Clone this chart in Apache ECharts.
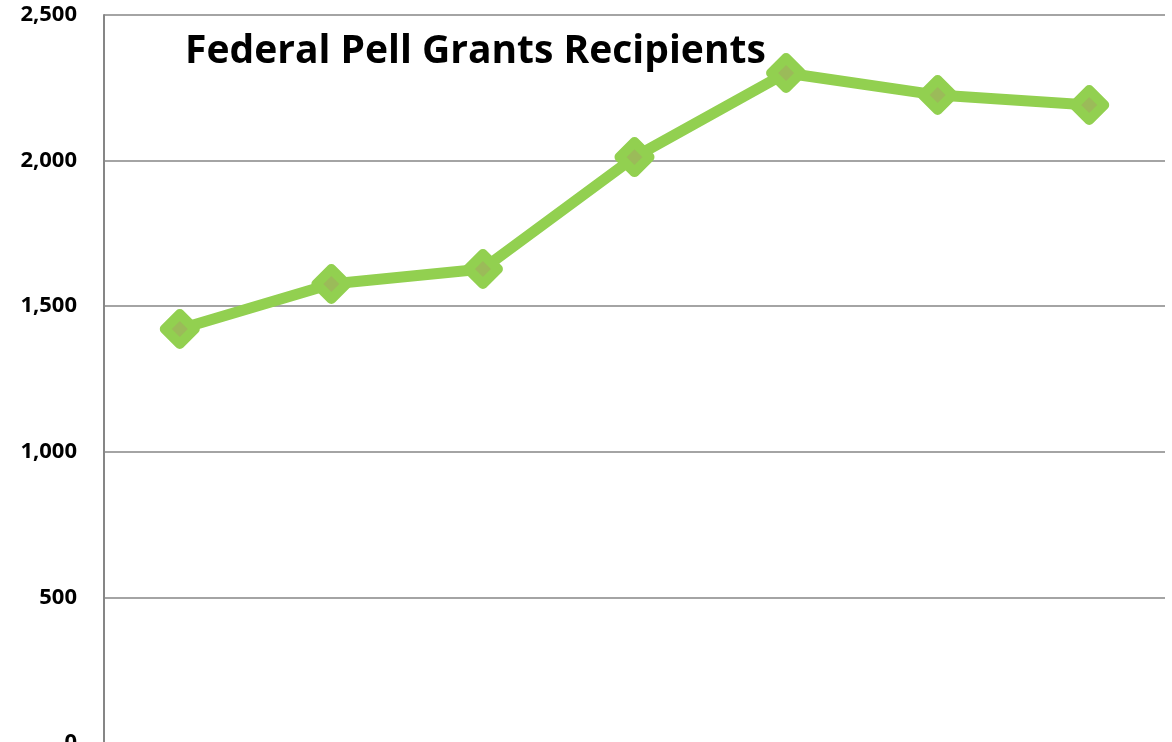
<!DOCTYPE html>
<html>
<head>
<meta charset="utf-8">
<title>Federal Pell Grants Recipients</title>
<script src="https://cdn.jsdelivr.net/npm/echarts@6/dist/echarts.min.js"></script>
<style>
  html, body { margin: 0; padding: 0; background: #ffffff; }
  #chart { width: 1172px; height: 742px; }
</style>
</head>
<body>
<div id="chart"></div>
<script>
// categories are below the visible area in the reference
const categories = ['1', '2', '3', '4', '5', '6', '7']
const recipients = [1422, 1576, 1628, 2012, 2301, 2225, 2191]
const yTicks = [0, 500, 1000, 1500, 2000, 2500]

const myChart = echarts.init(document.getElementById('chart'))
const option = {
  animation: false,
  title: {
    text: 'Federal Pell Grants Recipients',
    left: 180,
    top: 27,
    textStyle: {
      fontFamily: 'Open Sans',
      fontWeight: 'bold',
      fontSize: 39,
      color: '#000000'
    }
  },
  grid: {
    left: 104,
    right: 7,
    top: 15,
    bottom: -1,
    outerBoundsMode: 'none',
    containLabel: false
  },
  xAxis: {
    type: 'category',
    data: categories,
    boundaryGap: true,
    axisLine: { lineStyle: { color: '#868686', width: 2 } },
    axisTick: { show: false },
    axisLabel: { show: false }
  },
  yAxis: {
    type: 'value',
    min: yTicks[0],
    max: yTicks[yTicks.length - 1],
    interval: 500,
    axisLine: { show: true, lineStyle: { color: '#868686', width: 2 } },
    axisTick: { show: false },
    axisLabel: {
      margin: 27,
      color: '#000000',
      fontFamily: 'Open Sans',
      fontWeight: 'bold',
      fontSize: 22,
      formatter: v => v.toLocaleString('en-US')
    },
    splitLine: { lineStyle: { color: '#868686', width: 1.5 } }
  },
  series: [
    {
      name: 'Recipients',
      type: 'line',
      data: recipients,
      symbol: 'diamond',
      symbolSize: 30,
      lineStyle: { color: '#92D050', width: 11 },
      itemStyle: {
        color: '#9BBB59',
        borderColor: '#92D050',
        borderWidth: 10,
        borderJoin: 'round'
      }
    }
  ]
}
myChart.setOption(option)
</script>
</body>
</html>
